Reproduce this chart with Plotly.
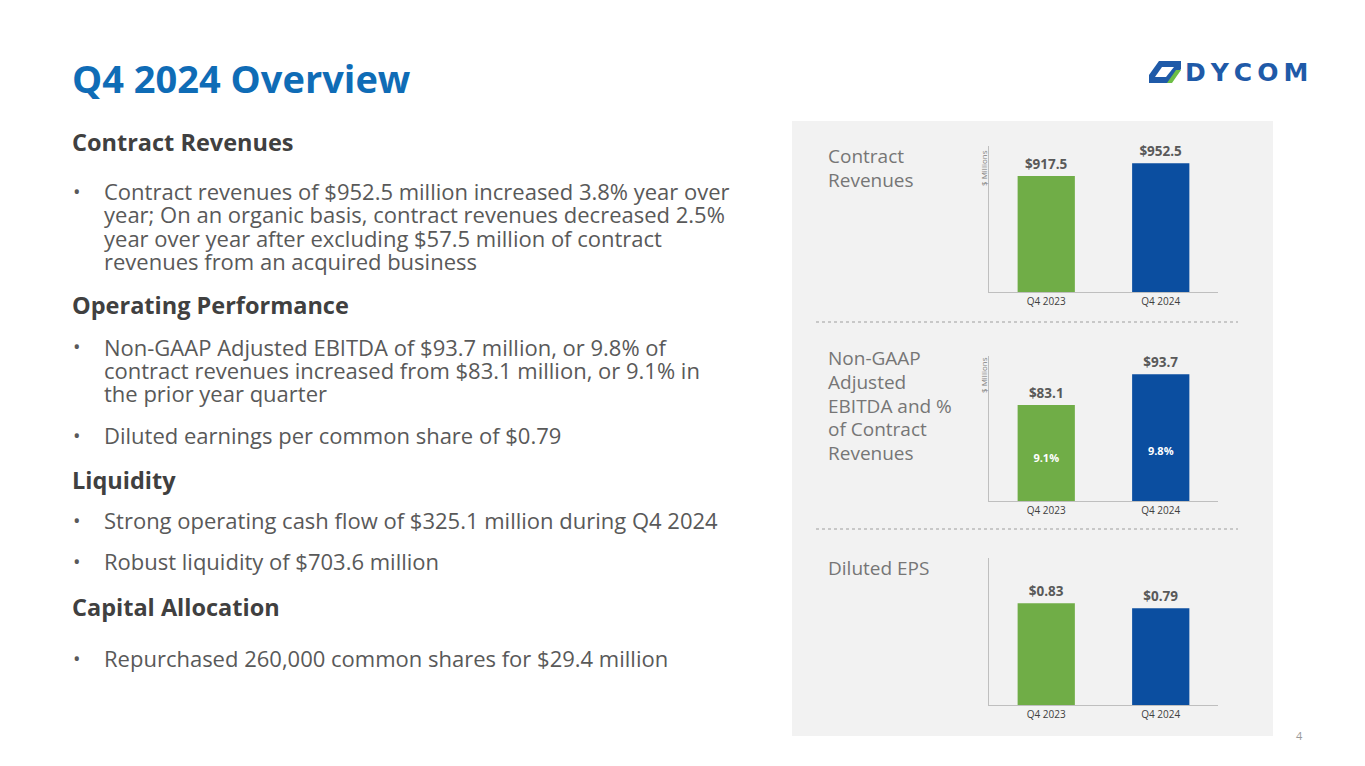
import plotly.graph_objects as go

W, H = 1365, 766
OFF = 8  # default page margin around the plot div

# chart data
quarters = ["Q4 2023", "Q4 2024"]
revenues = [917.5, 952.5]
ebitda = [83.1, 93.7]
ebitda_pct = [9.1, 9.8]
eps = [0.83, 0.79]
bar_colors = ["#70AD47", "#0B4EA0"]

# slide text
title = "Q4 2024 Overview"
sections = [
    ("Contract Revenues", 142, [
        (191, True, "Contract revenues of $952.5 million increased 3.8% year over"),
        (214, False, "year; On an organic basis, contract revenues decreased 2.5%"),
        (238, False, "year over year after excluding $57.5 million of contract"),
        (261, False, "revenues from an acquired business"),
    ]),
    ("Operating Performance", 305, [
        (347, True, "Non-GAAP Adjusted EBITDA of $93.7 million, or 9.8% of"),
        (370, False, "contract revenues increased from $83.1 million, or 9.1% in"),
        (393, False, "the prior year quarter"),
        (435, True, "Diluted earnings per common share of $0.79"),
    ]),
    ("Liquidity", 480, [
        (520, True, "Strong operating cash flow of $325.1 million during Q4 2024"),
        (561, True, "Robust liquidity of $703.6 million"),
    ]),
    ("Capital Allocation", 607, [
        (658, True, "Repurchased 260,000 common shares for $29.4 million"),
    ]),
]
panel_labels = [
    (156, "Contract"), (180, "Revenues"),
    (358, "Non-GAAP"), (382, "Adjusted"), (406, "EBITDA and %"),
    (429, "of Contract"), (453, "Revenues"),
    (568, "Diluted EPS"),
]

FW, FH = W - 2 * OFF, H - 2 * OFF


def px(x):
    return (x - OFF) / FW


def py(y):
    return 1 - (y - OFF) / FH


FONT = "Open Sans"
fig = go.Figure()

# three small bar charts
xdom = [px(989), px(1218)]
charts = [
    (revenues, "$%{y:.1f}", [600, 1000], (146, 292)),
    (ebitda, "$%{y:.1f}", [50, 100], (356, 501)),
    (eps, "$%{y:.2f}", [0, 1.2], (558, 705)),
]
for i, (vals, tmpl, rng, (top, bot)) in enumerate(charts, start=1):
    sfx = "" if i == 1 else str(i)
    fig.add_trace(go.Bar(
        x=quarters, y=vals, width=0.5,
        marker=dict(color=bar_colors, line=dict(width=0)),
        texttemplate=tmpl, textposition="outside", cliponaxis=False,
        textfont=dict(family="Open Sans", size=13.5, color="#595959", weight="bold"),
        xaxis="x" + sfx, yaxis="y" + sfx, showlegend=False, hoverinfo="skip",
    ))
    fig.update_layout(**{
        "xaxis" + sfx: dict(domain=xdom, anchor="y" + sfx, showline=True,
                            linecolor="#BFBFBF", linewidth=1, showgrid=False,
                            ticks="", tickfont=dict(family="Open Sans", size=10, color="#404040"),
                            range=[-0.5, 1.5], fixedrange=True),
        "yaxis" + sfx: dict(domain=[py(bot), py(top)], anchor="x" + sfx, range=rng,
                            showline=True, linecolor="#BFBFBF", linewidth=1,
                            showgrid=False, zeroline=False, showticklabels=False,
                            ticks="", fixedrange=True),
    })

# EBITDA % labels on a hidden secondary axis
fig.add_trace(go.Scatter(
    x=quarters, y=ebitda_pct, mode="text",
    text=[f"{v:.1f}%" for v in ebitda_pct],
    textfont=dict(family="Open Sans", size=11, color="white", weight="bold"),
    xaxis="x2", yaxis="y4", showlegend=False, hoverinfo="skip",
))
fig.update_layout(yaxis4=dict(overlaying="y2", range=[4.9, 19.4], visible=False,
                              fixedrange=True))

shapes = [
    # grey panel
    dict(type="rect", xref="paper", yref="paper", x0=px(792), x1=px(1273),
         y0=py(736), y1=py(121), fillcolor="#F2F2F2", line_width=0, layer="below"),
]
for yy in (322, 529):
    shapes.append(dict(type="line", xref="paper", yref="paper", x0=px(816), x1=px(1238),
                       y0=py(yy), y1=py(yy), line=dict(color="#C8C8C8", width=2, dash="dot")))


# logo mark
def path(points):
    return "M " + " L ".join(f"{px(a):.5f},{py(b):.5f}" for a, b in points) + " Z"


shapes.append(dict(type="path", xref="paper", yref="paper", fillcolor="#1F5AA8", line_width=0,
                   path=path([(1159, 61), (1181, 61), (1181, 69), (1171, 83),
                              (1149, 83), (1149, 75)])))
shapes.append(dict(type="path", xref="paper", yref="paper", fillcolor="white", line_width=0,
                   path=path([(1162, 67), (1174, 67), (1166, 77), (1155, 77)])))
shapes.append(dict(type="path", xref="paper", yref="paper", fillcolor="#6DBE45", line_width=0,
                   path=path([(1176, 70), (1181, 70), (1172, 83), (1167, 83)])))

annotations = []


def txt(x, y, s, size, color, bold=False, family=FONT, **kw):
    annotations.append(dict(
        x=px(x), y=py(y), xref="paper", yref="paper", text=s, showarrow=False,
        xanchor=kw.pop("xanchor", "left"), yanchor="middle",
        font=dict(family=family, size=size, color=color,
                  weight="bold" if bold else "normal"), **kw))


txt(70, 78, title, 38, "#0F6CB6", bold=True)
for head, hy, lines in sections:
    txt(70, hy, head, 23.5, "#404040", bold=True)
    for ly, bullet, line in lines:
        if bullet:
            txt(71, ly, "•", 20, "#595959")
        txt(102, ly, line, 22, "#595959")

for ly, line in panel_labels:
    txt(826, ly, line, 19, "#767676")

txt(983, 168, "$ Millions", 8, "#7F7F7F", textangle=-90, xanchor="center")
txt(983, 375, "$ Millions", 8, "#7F7F7F", textangle=-90, xanchor="center")
txt(1299, 735, "4", 11, "#9A9A9A", xanchor="center")
txt(1183, 72, "D&#8201;Y&#8201;C&#8201;O&#8201;M", 25, "#1F5AA8", bold=True,
    family="DejaVu Sans")

fig.update_layout(
    width=FW, height=FH, margin=dict(l=0, r=0, t=0, b=0),
    paper_bgcolor="white", plot_bgcolor="rgba(0,0,0,0)",
    shapes=shapes, annotations=annotations, bargap=0.5,
)

fig.write_html("out.html", config={"displayModeBar": False})
